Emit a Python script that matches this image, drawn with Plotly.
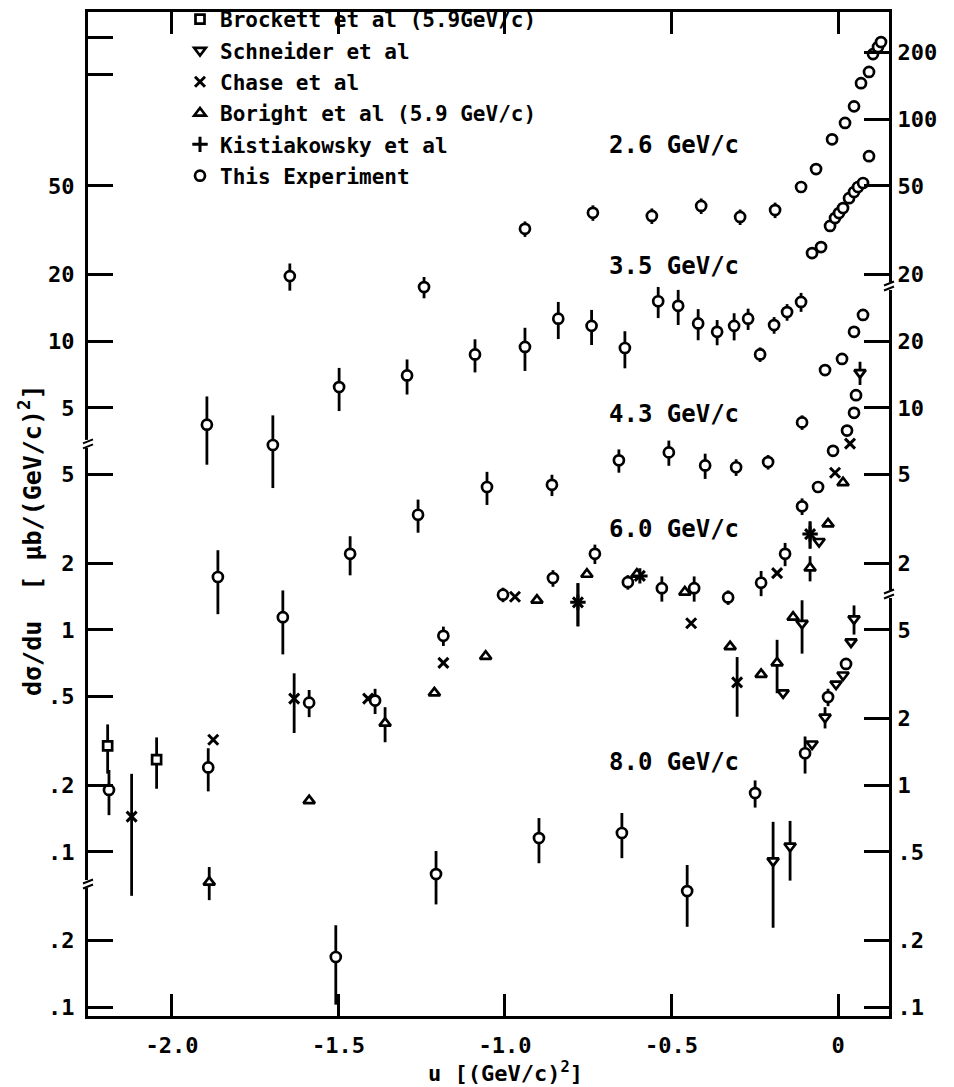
import numpy as np
import plotly.graph_objects as go

# ---------------- multipliers of each momentum panel on the common log scale
F26, F35, F43, F60, F80 = 10.0, 10.0, 5.0, 5.0, 1.0

# ---------------- This Experiment (u, dsigma/du, relative error) per momentum
u_26 = [-1.646, -1.243, -0.940, -0.736, -0.559, -0.411, -0.294, -0.189, -0.111, -0.066,
        -0.018, 0.021, 0.048, 0.069, 0.093, 0.105, 0.120, 0.129]
v_26 = [19.6, 17.5, 32.0, 37.8, 36.6, 40.6, 36.2, 38.9, 49.4, 59.5,
        81.0, 96.0, 114.0, 145.0, 163.0, 196.0, 211.0, 222.0]
r_26 = [0.14, 0.11, 0.08, 0.08, 0.08, 0.08, 0.08, 0.08, 0.06, 0,
        0, 0, 0, 0, 0, 0, 0, 0]

u_35 = [-1.895, -1.697, -1.498, -1.294, -1.090, -0.940, -0.840, -0.740, -0.640, -0.540,
        -0.480, -0.420, -0.363, -0.312, -0.270, -0.234, -0.192, -0.153, -0.111, -0.078,
        -0.051, -0.024, -0.009, 0.003, 0.015, 0.033, 0.048, 0.060, 0.075, 0.093]
v_35 = [4.2, 3.4, 6.2, 7.0, 8.7, 9.4, 12.6, 11.7, 9.3, 15.1,
        14.4, 12.0, 11.0, 11.7, 12.6, 8.7, 11.8, 13.5, 15.0, 24.9,
        26.5, 33.0, 35.8, 37.7, 39.7, 44.0, 46.9, 49.4, 51.5, 68.0]
r_35 = [0.34, 0.36, 0.22, 0.18, 0.17, 0.22, 0.19, 0.18, 0.19, 0.16,
        0.18, 0.16, 0.13, 0.14, 0.11, 0.075, 0.086, 0.086, 0.098, 0.05,
        0.05, 0, 0, 0, 0, 0, 0, 0, 0, 0]

u_43 = [-1.862, -1.667, -1.465, -1.261, -1.054, -0.859, -0.658, -0.508, -0.399, -0.306,
        -0.210, -0.108, -0.039, 0.012, 0.048, 0.075]
v_43 = [1.73, 1.14, 2.2, 3.3, 4.4, 4.5, 5.8, 6.3, 5.5, 5.4,
        5.7, 8.6, 14.8, 16.6, 22.0, 26.2]
r_43 = [0.32, 0.32, 0.2, 0.17, 0.17, 0.11, 0.12, 0.13, 0.13, 0.086,
        0.075, 0.075, 0, 0, 0, 0]

u_60 = [-2.189, -1.891, -1.588, -1.390, -1.185, -1.006, -0.856, -0.730, -0.631, -0.529,
        -0.432, -0.330, -0.231, -0.159, -0.108, -0.060, -0.015, 0.027, 0.048, 0.054]
v_60 = [0.19, 0.24, 0.47, 0.48, 0.94, 1.44, 1.71, 2.2, 1.64, 1.54,
        1.54, 1.40, 1.63, 2.2, 3.6, 4.4, 6.4, 7.9, 9.5, 11.4]
r_60 = [0.23, 0.22, 0.14, 0.13, 0.10, 0.075, 0.086, 0.10, 0.075, 0.13,
        0.13, 0.075, 0.13, 0.12, 0.086, 0, 0, 0, 0, 0]

u_80 = [-1.508, -1.207, -0.898, -0.649, -0.453, -0.249, -0.099, -0.030, 0.024]
v_80 = [0.168, 0.397, 0.577, 0.608, 0.333, 0.92, 1.39, 2.49, 3.51]
r_80 = [0.39, 0.27, 0.23, 0.23, 0.31, 0.14, 0.19, 0.09, 0.05]

# ---------------- other experiments
# Brockett et al (5.9 GeV/c) -> 6.0 panel
u_brock = [-2.193, -2.046]
v_brock = [0.30, 0.26]
r_brock = [0.25, 0.26]

# Schneider et al: 6.0 panel and 8.0 panel
u_sch60 = [-0.165, -0.108, -0.057, 0.066]
v_sch60 = [0.52, 1.07, 2.5, 14.4]
r_sch60 = [0, 0.27, 0, 0.12]
u_sch80 = [-0.195, -0.144, -0.078, -0.039, -0.006, 0.015, 0.039, 0.048]
v_sch80 = [0.455, 0.53, 1.53, 2.02, 2.85, 3.13, 4.41, 5.6]
r_sch80 = [0.5, 0.3, 0.03, 0.11, 0, 0, 0, 0.15]

# Chase et al -> 6.0 panel
u_chase = [-2.121, -1.876, -1.633, -1.411, -1.185, -0.970, -0.781, -0.595, -0.441, -0.303,
           -0.183, -0.084, -0.009, 0.036]
v_chase = [0.144, 0.32, 0.49, 0.49, 0.71, 1.41, 1.33, 1.75, 1.07, 0.58,
           1.8, 2.7, 5.1, 6.9]
r_chase = [0.56, 0, 0.3, 0, 0, 0, 0.22, 0, 0, 0.3,
           0, 0.14, 0, 0]

# Boright et al (5.9 GeV/c) -> 6.0 panel
u_bor = [-1.888, -1.588, -1.360, -1.212, -1.058, -0.904, -0.754, -0.604, -0.460, -0.324,
         -0.231, -0.183, -0.135, -0.084, -0.030, 0.015]
v_bor = [0.073, 0.17, 0.38, 0.52, 0.76, 1.36, 1.78, 1.78, 1.48, 0.84,
         0.63, 0.71, 1.14, 1.9, 3.0, 4.6]
r_bor = [0.17, 0, 0.18, 0, 0, 0, 0, 0, 0, 0,
         0, 0.27, 0, 0.13, 0, 0]

# Kistiakowsky et al -> 6.0 panel
u_kis = [-0.781, -0.595, -0.084]
v_kis = [1.33, 1.75, 2.7]
r_kis = [0.22, 0, 0.14]

# ---------------- axes
x_ticks = [-2.0, -1.5, -1.0, -0.5, 0.0]
x_ticktext = ["-2.0", "-1.5", "-1.0", "-0.5", "0"]
left_top = [5, 10, 20, 50]
left_mid = [0.1, 0.2, 0.5, 1, 2, 5]
left_bot = [0.1, 0.2]
right_top = [20, 50, 100, 200]
right_mid = [2, 5, 10, 20]
right_bot = [0.1, 0.2, 0.5, 1, 2, 5]
left_minor = [158, 234]          # unlabeled ticks near top of left axis (x10 panel)
breaks_left = [3.44, 0.0716]     # in panel units x10 and x5
breaks_right = [17.7, 1.45]      # in panel units x10 and x5

Y0, Y1 = -1.0405, 3.482
X0, X1 = -2.252, 0.153


def fmt(v):
    s = ("%g" % v)
    return s[1:] if s.startswith("0.") else s


def scaled(vals, f):
    return [v * f for v in vals]


def errs(vals, rel, f):
    return [v * r * f for v, r in zip(vals, rel)]


BLACK = "black"
FONT = "DejaVu Sans Mono"
W = "bold"

fig = go.Figure()


def add(name, sym, size, us, vs, es, lw=2.7, fill="white"):
    fig.add_trace(go.Scatter(
        x=us, y=vs, mode="markers", name=name, legendgroup=name,
        marker=dict(symbol=sym, size=size, color=fill,
                    line=dict(color=BLACK, width=lw)),
        error_y=dict(type="data", array=es, symmetric=True, color=BLACK,
                     thickness=2.8, width=0, visible=True),
        cliponaxis=False,
    ))


add("Brockett et al (5.9GeV/c)", "square", 9, u_brock,
    scaled(v_brock, F60), errs(v_brock, r_brock, F60))
add("Schneider et al", "triangle-down", 10, u_sch60 + u_sch80,
    scaled(v_sch60, F60) + scaled(v_sch80, F80),
    errs(v_sch60, r_sch60, F60) + errs(v_sch80, r_sch80, F80))
add("Chase et al", "x-thin", 10, u_chase,
    scaled(v_chase, F60), errs(v_chase, r_chase, F60), lw=3, fill=BLACK)
add("Boright et al (5.9 GeV/c)", "triangle-up", 10, u_bor,
    scaled(v_bor, F60), errs(v_bor, r_bor, F60))
add("Kistiakowsky et al", "cross-thin", 11, u_kis,
    scaled(v_kis, F60), errs(v_kis, r_kis, F60), lw=3, fill=BLACK)
add("This Experiment", "circle", 10,
    u_26 + u_35 + u_43 + u_60 + u_80,
    scaled(v_26, F26) + scaled(v_35, F35) + scaled(v_43, F43) + scaled(v_60, F60) + scaled(v_80, F80),
    errs(v_26, r_26, F26) + errs(v_35, r_35, F35) + errs(v_43, r_43, F43)
    + errs(v_60, r_60, F60) + errs(v_80, r_80, F80))

# invisible anchor trace for the right axis
fig.add_trace(go.Scatter(x=[u_26[0]], y=[v_26[0] * F26], yaxis="y2", mode="markers",
                         marker=dict(opacity=0), showlegend=False, hoverinfo="skip"))

lt_vals = scaled(left_top, F35) + scaled(left_mid, F60) + scaled(left_bot, F80)
lt_text = [fmt(v) for v in left_top + left_mid + left_bot]
lt_vals += scaled(left_minor, F35)
lt_text += ["", ""]
rt_vals = scaled(right_top, F26) + scaled(right_mid, F43) + scaled(right_bot, F80)
rt_text = [fmt(v) for v in right_top + right_mid + right_bot]

tickfont = dict(family=FONT, size=22, color=BLACK, weight=W)
axis_common = dict(type="log", range=[Y0, Y1], showgrid=False, zeroline=False,
                   ticks="inside", ticklen=25, tickwidth=2.6, tickcolor=BLACK,
                   showline=True, linecolor=BLACK, linewidth=3, tickfont=tickfont)

fig.update_layout(
    width=954, height=1087,
    margin=dict(l=88, r=65, t=12, b=71, autoexpand=False),
    paper_bgcolor="white", plot_bgcolor="white",
    font=dict(family=FONT, color=BLACK),
    xaxis=dict(range=[X0, X1], tickvals=x_ticks, ticktext=x_ticktext,
               showgrid=False, zeroline=False, ticks="inside", ticklen=22,
               tickwidth=2.6, tickcolor=BLACK, showline=True, linecolor=BLACK,
               linewidth=3, mirror="ticks", tickfont=tickfont, ticklabelstandoff=8),
    yaxis=dict(tickvals=lt_vals, ticktext=lt_text, ticklabelstandoff=6, **axis_common),
    yaxis2=dict(tickvals=rt_vals, ticktext=rt_text, overlaying="y", side="right",
                ticklabelstandoff=1, **axis_common),
    showlegend=True,
    legend=dict(x=(180 - 88) / 801, y=(1016 + 1) / 1004, xanchor="left", yanchor="top",
                bgcolor="rgba(0,0,0,0)",
                font=dict(family=FONT, size=21, color=BLACK, weight=W),
                tracegroupgap=1, itemsizing="trace"),
)

PW, PH = 801.0, 1004.0


def yp(d):
    return (np.log10(d) - Y0) / (Y1 - Y0)


anns = []
for txt, py in [("2.6 GeV/c", 145), ("3.5 GeV/c", 266), ("4.3 GeV/c", 414),
                ("6.0 GeV/c", 529), ("8.0 GeV/c", 762)]:
    anns.append(dict(text=txt, xref="paper", yref="paper", x=(674 - 88) / PW,
                     y=(1016 - py) / PH, showarrow=False, xanchor="center", yanchor="middle",
                     font=dict(family=FONT, size=24, color=BLACK, weight=W)))
anns.append(dict(text="dσ/du  [ μb/(GeV/c)<sup>2</sup>]", xref="paper", yref="paper",
                 x=(30 - 88) / PW, y=(1016 - 540) / PH, textangle=-90, showarrow=False,
                 xanchor="center", yanchor="middle",
                 font=dict(family=FONT, size=25, color=BLACK, weight=W)))
anns.append(dict(text="u [(GeV/c)<sup>2</sup>]", xref="paper", yref="paper",
                 x=(505 - 88) / PW, y=(1016 - 1072) / PH, showarrow=False,
                 xanchor="center", yanchor="middle",
                 font=dict(family=FONT, size=22, color=BLACK, weight=W)))
fig.update_layout(annotations=anns)

shapes = []
brk = [(0.0, b * f) for b, f in zip(breaks_left, [F35, F60])] + \
      [(1.0, b * f) for b, f in zip(breaks_right, [F26, F43])]
for xp, d in brk:
    y = yp(d)
    shapes.append(dict(type="rect", xref="paper", yref="paper",
                       x0=xp - 5 / PW, x1=xp + 5 / PW, y0=y - 4 / PH, y1=y + 4 / PH,
                       fillcolor="white", line=dict(width=0), layer="above"))
    for off in (-2.5, 2.5):
        shapes.append(dict(type="line", xref="paper", yref="paper",
                           x0=xp - 5 / PW, x1=xp + 5 / PW,
                           y0=y + (off - 2) / PH, y1=y + (off + 2) / PH,
                           line=dict(color=BLACK, width=2), layer="above"))
fig.update_layout(shapes=shapes)

fig.write_html("out.html")
